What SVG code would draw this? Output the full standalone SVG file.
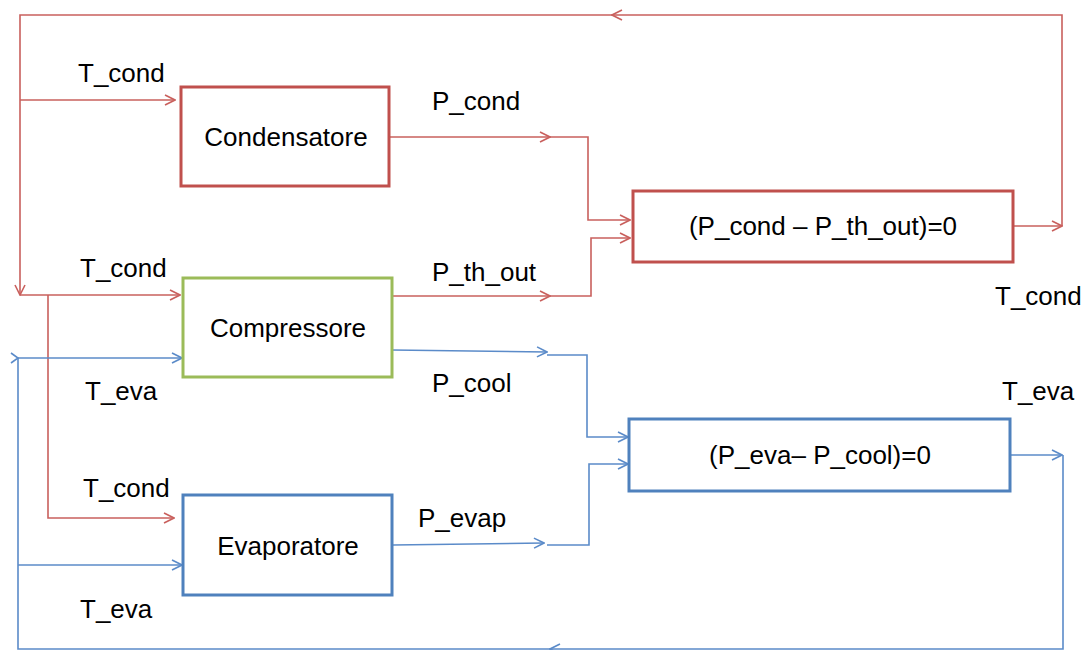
<svg xmlns="http://www.w3.org/2000/svg" width="1082" height="650" viewBox="0 0 1082 650">
<defs>
<style>
text{font-family:"Liberation Sans",Arial,sans-serif;font-size:26px;fill:#000}
.box{fill:#fff;stroke-width:3}
.r{stroke:#C0504D}
.g{stroke:#9BBB59}
.b{stroke:#4F81BD}
.cr{fill:none;stroke:#C9605D;stroke-width:1.6;marker-end:url(#ar)}
.cb{fill:none;stroke:#5B8BC9;stroke-width:1.6;marker-end:url(#ab)}
.nr{fill:none;stroke:#C9605D;stroke-width:1.6}
.nb{fill:none;stroke:#5B8BC9;stroke-width:1.6}
.c{text-anchor:middle}
</style>
<marker id="ar" markerUnits="userSpaceOnUse" markerWidth="12" markerHeight="12" viewBox="0 0 12 12" refX="11" refY="6" orient="auto"><path d="M1,1 L11,6 L1,11" fill="none" stroke="#C9605D" stroke-width="1.6"/></marker>
<marker id="ab" markerUnits="userSpaceOnUse" markerWidth="12" markerHeight="12" viewBox="0 0 12 12" refX="11" refY="6" orient="auto"><path d="M1,1 L11,6 L1,11" fill="none" stroke="#5B8BC9" stroke-width="1.6"/></marker>
</defs>
<rect width="1082" height="650" fill="#fff"/>
<g id="connectors">
<path class="cr" d="M1013,226 H1062"/>
<path class="cr" d="M1062,226 V15 H612"/>
<path class="cr" d="M612,15 H20 V295"/>
<path class="cr" d="M20,100 H175"/>
<path class="cr" d="M20,295 H180"/>
<path class="cr" d="M48,295 V518 H174"/>
<path class="cr" d="M390,137 H550"/>
<path class="cr" d="M550,137 H588 V220 H630"/>
<path class="cr" d="M392,296 H550"/>
<path class="cr" d="M550,296 H591 V238 H630"/>
<path class="cb" d="M1010,455 H1062"/>
<path class="cb" d="M1063,455 V649 H550"/>
<path class="nb" d="M550,649 H18 V358"/>
<path class="nb" d="M11,353 L18,358 L11,363"/>
<path class="cb" d="M18,358 H182"/>
<path class="cb" d="M18,565 H182"/>
<path class="cb" d="M392,350 L547,352"/>
<path class="cb" d="M547,355 H587 V437 H628"/>
<path class="cb" d="M393,545 L544,543"/>
<path class="cb" d="M547,545 H589 V464 H628"/>
</g>
<g id="condensatore"><rect class="box r" x="181" y="87" width="208" height="99"/><text class="c" x="286" y="146">Condensatore</text></g>
<g id="compressore"><rect class="box g" x="183" y="278" width="209" height="99"/><text class="c" x="288" y="337">Compressore</text></g>
<g id="evaporatore"><rect class="box b" x="183" y="495" width="209" height="100"/><text class="c" x="288" y="555">Evaporatore</text></g>
<g id="bilancio-cond"><rect class="box r" x="633" y="191" width="380" height="71"/><text class="c" x="823" y="235">(P_cond – P_th_out)=0</text></g>
<g id="bilancio-eva"><rect class="box b" x="629" y="419" width="381" height="72"/><text class="c" x="820" y="464">(P_eva– P_cool)=0</text></g>
<g id="labels">
<text x="78" y="82">T_cond</text>
<text x="432" y="110">P_cond</text>
<text x="80" y="277">T_cond</text>
<text x="432" y="281">P_th_out</text>
<text x="995" y="305">T_cond</text>
<text x="85" y="400">T_eva</text>
<text x="432" y="392">P_cool</text>
<text x="1002" y="400">T_eva</text>
<text x="83" y="497">T_cond</text>
<text x="418" y="527">P_evap</text>
<text x="80" y="618">T_eva</text>
</g>
</svg>
